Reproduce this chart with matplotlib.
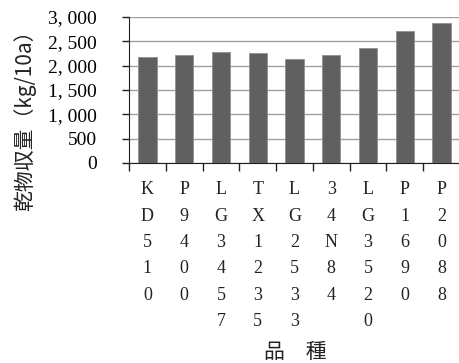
import matplotlib
matplotlib.use("Agg")
import matplotlib.pyplot as plt
import numpy as np

categories = ["KD510", "P9400", "LG3457", "TX1235", "LG2533", "34N84", "LG3520", "P1690", "P2088"]
values = [2172, 2212, 2281, 2267, 2137, 2212, 2356, 2705, 2870]
yticks = [0, 500, 1000, 1500, 2000, 2500, 3000]
ytick_labels = ["0", "500", "1, 000", "1, 500", "2, 000", "2, 500", "3, 000"]

fig = plt.figure(figsize=(4.6, 3.63), dpi=100)
ax = fig.add_axes([0.2804, 0.551, 0.7196, 0.402])
x = np.arange(len(categories))
ax.bar(x, values, width=0.5, color="#606060", edgecolor="#909090", linewidth=0.6, zorder=3)
ax.set_xlim(-0.5, len(categories) - 0.5)
ax.set_ylim(0, 3000)
ax.set_yticks(yticks)
ax.set_yticklabels(ytick_labels, family=["Liberation Serif", "DejaVu Serif"], fontsize=14)
ax.yaxis.grid(True, color="#a0a0a0", linewidth=1.0, zorder=0)
ax.set_axisbelow(True)
for s in ["top", "right"]:
    ax.spines[s].set_visible(False)
ax.spines["left"].set_color("#202020")
ax.spines["bottom"].set_color("#202020")
ax.tick_params(axis="y", direction="out", length=5, width=1, color="#202020", pad=18)

# x ticks at boundaries, labels at centers
ax.set_xticks(np.arange(len(categories) + 1) - 0.5)
ax.set_xticklabels([])
ax.tick_params(axis="x", direction="out", length=6, width=1, color="#202020")
for i, c in enumerate(categories):
    ax.text(i, -0.125, "\n".join(c), transform=ax.get_xaxis_transform(), ha="center", va="top",
            fontsize=13, family=["Liberation Serif", "DejaVu Serif"], linespacing=1.72, color="#222222")

fig.text(0.054, 0.683, "乾物収量（kg/10a）", rotation=90, ha="center", va="center",
         fontsize=15, family=["Noto Sans CJK JP", "DejaVu Sans"], color="#222222")
fig.text(0.643, 0.03, "品　種", ha="center", va="center",
         fontsize=15, family=["Noto Sans CJK JP", "DejaVu Sans"], color="#222222")

fig.savefig("out.png", dpi=100)
